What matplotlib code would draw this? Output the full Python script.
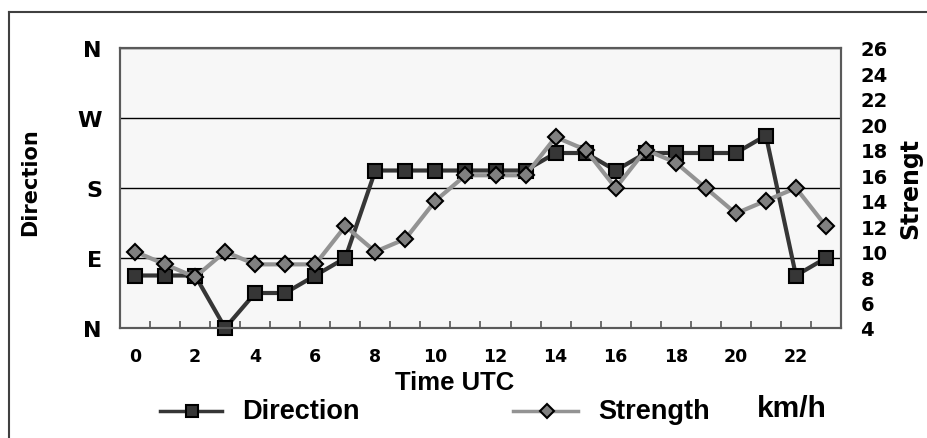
import matplotlib
matplotlib.use('Agg')
import matplotlib.pyplot as plt
from matplotlib.lines import Line2D
from matplotlib.transforms import Bbox

# ---- data ----
hours = list(range(24))
direction_deg = [67.5, 67.5, 67.5, 0, 45, 45, 67.5, 90, 202.5, 202.5, 202.5, 202.5,
                 202.5, 202.5, 225, 225, 202.5, 225, 225, 225, 225, 247.5, 67.5, 90]
strength_kmh = [10, 9, 8, 10, 9, 9, 9, 12, 10, 11, 14, 16,
                16, 16, 19, 18, 15, 18, 17, 15, 13, 14, 15, 12]
dir_ticks = [0, 90, 180, 270, 360]
dir_labels = ['N', 'E', 'S', 'W', 'N']
strength_ticks = list(range(4, 27, 2))
x_ticks = list(range(0, 23, 2))

W, H = 928, 439
DIR_COL = '#363636'
STR_COL = '#939393'

fig = plt.figure(figsize=(W / 100, H / 100), dpi=100)
ax = fig.add_axes([120 / W, 110 / H, 721 / W, 280 / H])
ax.set_facecolor('#f7f7f7')
ax.set_xlim(-0.5, 23.5)
ax.set_ylim(0, 360)
ax.set_yticks(dir_ticks)
ax.set_yticklabels(dir_labels, fontsize=16, fontweight='bold', family='DejaVu Sans')
ax.tick_params(axis='y', length=0, pad=13)
ax.set_xticks(x_ticks)
ax.set_xticklabels([str(v) for v in x_ticks], fontsize=12.5, fontweight='bold', family='DejaVu Sans')
ax.tick_params(axis='x', which='major', length=0, pad=14)
ax.set_xticks([h + 0.5 for h in hours[:-1]], minor=True)
ax.tick_params(axis='x', which='minor', direction='in', length=5, width=1.2, color='#555555')
ax.yaxis.grid(True, color='black', lw=1)
ax.set_axisbelow(True)
for s in ax.spines.values():
    s.set_color('#5a5a5a')
    s.set_linewidth(1.5)

ax.plot(hours, direction_deg, color=DIR_COL, lw=3, marker='s', ms=10.5,
        mfc=DIR_COL, mec='black', mew=1.5, clip_on=False, zorder=3)

ax2 = ax.twinx()
ax2.set_ylim(4, 26)
ax2.set_yticks(strength_ticks)
ax2.set_yticklabels([str(v) for v in strength_ticks], fontsize=14, fontweight='bold',
                    family='DejaVu Sans')
ax2.tick_params(axis='y', length=0, pad=14)
for s in ax2.spines.values():
    s.set_color('#5a5a5a')
    s.set_linewidth(1.5)
ax2.plot(hours, strength_kmh, color=STR_COL, lw=3, marker='D', ms=8.5,
         mfc='#808080', mec='black', mew=1.5, clip_on=False, zorder=3)

# axis titles
fig.text(30 / W, 1 - 182 / H, 'Direction', rotation=90, ha='center', va='center',
         fontsize=15, fontweight='bold', family='DejaVu Sans')
t = fig.text(910 / W, 1 - 239 / H, 'Strength', rotation=90, ha='center', va='bottom',
             fontsize=17, fontweight='bold', family='DejaVu Sans')
t.set_clip_box(Bbox.from_extents(0, 0, W, H - 142))
t.set_clip_on(True)
fig.text(455 / W, 1 - 383 / H, 'Time UTC', ha='center', va='center',
         fontsize=18.5, fontweight='bold', family='Liberation Sans')

# legend
ly = 1 - 412 / H
fig.add_artist(Line2D([160 / W, 192 / W, 222 / W], [ly, ly, ly], transform=fig.transFigure,
                      color=DIR_COL, lw=2.5, marker='s', ms=9, mfc=DIR_COL, mec='black',
                      mew=1.5, markevery=[1]))
fig.text(242 / W, ly, 'Direction', ha='left', va='center', fontsize=19.5,
         fontweight='bold', family='Liberation Sans')
fig.add_artist(Line2D([513 / W, 547 / W, 578 / W], [ly, ly, ly], transform=fig.transFigure,
                      color=STR_COL, lw=2.5, marker='D', ms=7.5, mfc='#808080', mec='black',
                      mew=1.5, markevery=[1]))
fig.text(598 / W, ly, 'Strength', ha='left', va='center', fontsize=19.5,
         fontweight='bold', family='Liberation Sans')
fig.text(757 / W, 1 - 409 / H, 'km/h', ha='left', va='center', fontsize=21.5,
         fontweight='bold', family='Liberation Sans')

# outer frame (top and left edges visible)
fig.add_artist(Line2D([9 / W, 9 / W], [0, 1 - 13 / H], transform=fig.transFigure,
                      color='#404040', lw=1.5))
fig.add_artist(Line2D([9 / W, 1], [1 - 13 / H, 1 - 13 / H], transform=fig.transFigure,
                      color='#404040', lw=1.5))

fig.savefig('out.png', dpi=100)
